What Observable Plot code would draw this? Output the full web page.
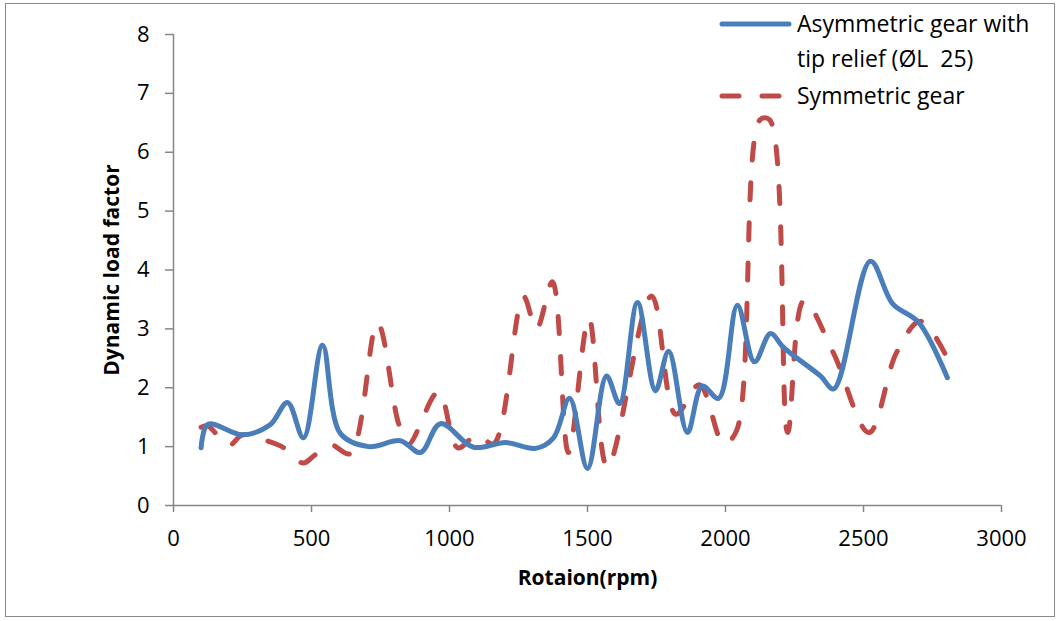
<!DOCTYPE html>
<html>
<head>
<meta charset="utf-8">
<script src="https://cdn.jsdelivr.net/npm/d3@7"></script>
<script src="https://cdn.jsdelivr.net/npm/@observablehq/plot@0.6"></script>
<style>
  body { margin: 0; background: #fff; }
  #wrap { position: relative; width: 1060px; height: 621px; font-family: "Open Sans", sans-serif; }
  #border { position: absolute; left: 5px; top: 3px; width: 1050px; height: 614px; border: 1.5px solid #888; box-sizing: border-box; pointer-events: none; }
  #legend { position: absolute; left: 0; top: 0; width: 1060px; height: 130px; pointer-events: none; }
  #legend text { white-space: pre; }
</style>
</head>
<body>
<div id="wrap">
  <div id="chart"></div>
  <div id="border"></div>
  <svg id="legend" width="1060" height="130"></svg>
</div>
<script>
// ---- data ----
const seriesNames = ["Asymmetric gear with tip relief (ØL  25)", "Symmetric gear"];
const legendLines = [["Asymmetric gear with", "tip relief (ØL  25)"], ["Symmetric gear"]];

const asymRpm  = [100, 125, 250, 350, 413, 471, 540, 605, 707, 822, 895, 967, 1087, 1203, 1312, 1377, 1435, 1500, 1569, 1616, 1681, 1746, 1794, 1862, 1916, 1975, 2043, 2105, 2163, 2211, 2344, 2392, 2525, 2605, 2700, 2804];
const asymLoad = [0.98, 1.38, 1.2, 1.37, 1.75, 1.15, 2.72, 1.22, 1.0, 1.1, 0.9, 1.39, 0.99, 1.07, 0.97, 1.15, 1.82, 0.63, 2.2, 1.73, 3.45, 1.95, 2.62, 1.24, 2.03, 1.82, 3.4, 2.44, 2.92, 2.68, 2.2, 1.98, 4.15, 3.43, 3.11, 2.17];

const symRpm  = [100, 125, 200, 250, 350, 400, 470, 510, 570, 640, 739, 815, 850, 960, 1030, 1100, 1160, 1268, 1315, 1373, 1431, 1505, 1572, 1732, 1820, 1905, 1993, 2040, 2125, 2160, 2225, 2284, 2390, 2520, 2620, 2707, 2804];
const symLoad = [1.33, 1.35, 1.02, 1.2, 1.08, 0.98, 0.72, 0.85, 1.03, 0.88, 3.1, 1.4, 1.03, 1.93, 0.98, 1.2, 1.05, 3.55, 3.0, 3.8, 0.9, 3.18, 0.65, 3.56, 1.55, 2.05, 1.05, 1.27, 6.55, 6.55, 1.24, 3.48, 2.6, 1.24, 2.6, 3.13, 2.5];

const xTicks = [0, 500, 1000, 1500, 2000, 2500, 3000];
const yTicks = [0, 1, 2, 3, 4, 5, 6, 7, 8];
const xTitle = "Rotaion(rpm)";
const yTitle = "Dynamic load factor";

const colors = ["#4A7EBB", "#BE4B48"];
const dash = "17,23";

const asym = asymRpm.map((x, i) => ({x, y: asymLoad[i]}));
const sym = symRpm.map((x, i) => ({x, y: symLoad[i]}));

const axisColor = "#868686";

const chart = Plot.plot({
  width: 1060,
  height: 621,
  marginLeft: 173,
  marginRight: 59,
  marginTop: 34,
  marginBottom: 116,
  style: {fontFamily: "'Open Sans', sans-serif", fontSize: "22px", color: "#000", background: "transparent"},
  x: {domain: [0, 3000]},
  y: {domain: [0, 8]},
  marks: [
    Plot.axisX({ticks: xTicks, tickFormat: d => String(d), tickSize: 7, tickPadding: 18, stroke: axisColor, strokeWidth: 1.5, fill: "#000", label: null, fontSize: 22}),
    Plot.axisY({ticks: yTicks, tickFormat: d => String(d), tickSize: 8, tickPadding: 16, stroke: axisColor, strokeWidth: 1.5, fill: "#000", label: null, fontSize: 22}),
    Plot.ruleY([0], {stroke: axisColor, strokeWidth: 1.5}),
    Plot.ruleX([0], {stroke: axisColor, strokeWidth: 1.5}),
    Plot.line(sym, {x: "x", y: "y", stroke: colors[1], strokeWidth: 5, strokeDasharray: dash, strokeLinecap: "round", curve: "catmull-rom"}),
    Plot.line(asym, {x: "x", y: "y", stroke: colors[0], strokeWidth: 5, strokeLinecap: "round", strokeLinejoin: "round", curve: "catmull-rom"}),
    Plot.text([xTitle], {frameAnchor: "bottom", dy: 73, textAnchor: "middle", lineAnchor: "middle", fontWeight: "bold", fontSize: 21, fill: "#000"}),
    Plot.text([yTitle], {frameAnchor: "left", dx: -61, rotate: -90, textAnchor: "middle", lineAnchor: "middle", fontWeight: "bold", fontSize: 21, fill: "#000"})
  ]
});
document.getElementById("chart").appendChild(chart);

// ---- legend ----
const lg = d3.select("#legend");
const rows = [
  {name: seriesNames[0], lines: legendLines[0], color: colors[0], dash: null, y: 24},
  {name: seriesNames[1], lines: legendLines[1], color: colors[1], dash: dash, y: 96}
];
rows.forEach(r => {
  lg.append("line").attr("x1", 722).attr("x2", 789).attr("y1", r.y).attr("y2", r.y)
    .attr("stroke", r.color).attr("stroke-width", 5).attr("stroke-linecap", "round")
    .attr("stroke-dasharray", r.dash ? "17,23" : null);
  const t = lg.append("text").attr("x", 797).attr("y", r.y)
    .attr("font-family", "'Open Sans', sans-serif").attr("font-size", 23).attr("fill", "#000")
    .attr("xml:space", "preserve");
  r.lines.forEach((ln, i) => {
    t.append("tspan").attr("x", 797).attr("dy", i === 0 ? "0.36em" : "35px").text(ln);
  });
});
</script>
</body>
</html>
